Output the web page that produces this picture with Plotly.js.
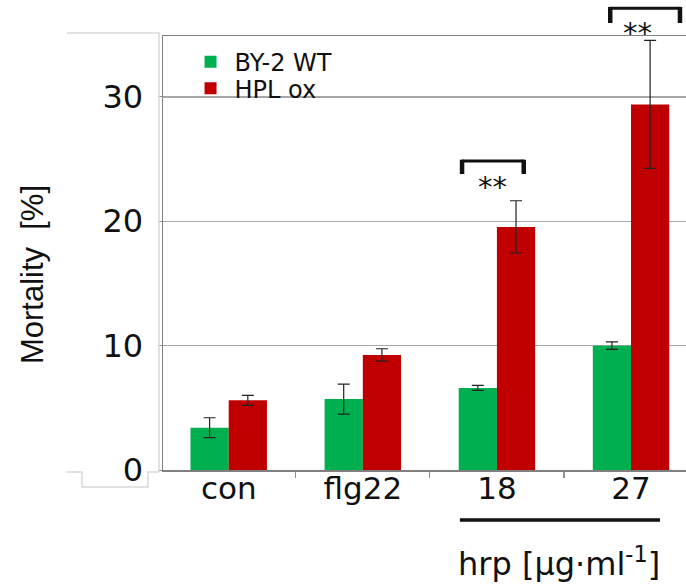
<!DOCTYPE html>
<html>
<head>
<meta charset="utf-8">
<script src="https://cdn.plot.ly/plotly-3.0.1.min.js"></script>
<style>html,body{margin:0;padding:0;background:#fff;}#chart{width:686px;height:585px;}</style>
</head>
<body>
<div id="chart"></div>
<script>
const categories = ['con', 'flg22', '18', '27'];
const wtValues = [3.4, 5.7, 6.6, 10.0];
const wtErrors = [0.8, 1.2, 0.2, 0.3];
const hplValues = [5.6, 9.25, 19.55, 29.4];
const hplErrors = [0.4, 0.5, 2.1, 5.15];
const seriesNames = ['BY-2 WT', 'HPL ox'];
const yTicks = [0, 10, 20, 30];

const FONT = 'DejaVu Sans, Arial, sans-serif';
const errStyle = {type: 'data', visible: true, color: '#222', thickness: 1.2, width: 6};

const traces = [
  {type: 'bar', name: seriesNames[0], x: categories, y: wtValues, legend: 'legend',
   marker: {color: '#00B050'}, error_y: Object.assign({array: wtErrors}, errStyle)},
  {type: 'bar', name: seriesNames[1], x: categories, y: hplValues, legend: 'legend2',
   marker: {color: '#C00000'}, error_y: Object.assign({array: hplErrors}, errStyle)}
];

const legendBase = {xanchor: 'left', yanchor: 'middle', bgcolor: 'rgba(0,0,0,0)', itemwidth: 38,
                    font: {family: FONT, size: 24, color: '#111'}, itemclick: false};
const faint = {color: '#d9d9d9', width: 1.5};
const blk = '#111';
const layout = {
  width: 686, height: 585,
  margin: {l: 163, r: 0, t: 36, b: 115},
  paper_bgcolor: '#fff', plot_bgcolor: '#fff',
  barmode: 'group', bargap: 0.43, bargroupgap: 0,
  showlegend: true,
  legend: Object.assign({x: 0.045, y: 0.9395}, legendBase),
  legend2: Object.assign({x: 0.045, y: 0.8789}, legendBase),
  xaxis: {type: 'category', range: [-0.49, 3.41], showline: true, linecolor: '#808080', linewidth: 1.5,
          mirror: true, ticks: 'outside', tickson: 'boundaries', ticklen: 6, tickcolor: '#909090',
          tickwidth: 1.2, showgrid: false, zeroline: false, ticklabelstandoff: -10,
          tickfont: {family: FONT, size: 31, color: '#111'}},
  yaxis: {range: [0, 34.9], tickvals: yTicks, ticktext: yTicks.map(String), showline: true,
          linecolor: '#808080', linewidth: 1.5, ticks: 'outside', ticklen: 4, tickcolor: '#909090',
          showgrid: true, gridcolor: '#a6a6a6', gridwidth: 1.3, zeroline: false,
          ticklabelstandoff: 8,
          tickfont: {family: FONT, size: 32, color: '#111'},
          title: {text: 'Mortality\u00a0\u00a0[%]\u00a0\u00a0\u00a0\u00a0\u00a0\u200b', standoff: 49,
                  font: {family: 'Liberation Sans, Arial, sans-serif', size: 31, color: '#111'}}},
  shapes: [
    // faint frame artefacts at the left
    {type: 'path', xref: 'paper', yref: 'paper', line: faint,
     path: 'M-0.1836,1.0069 L-0.0076,1.0069 L-0.0076,-0.0046'},
    {type: 'path', xref: 'paper', yref: 'paper', line: faint,
     path: 'M-0.1836,-0.0046 L-0.1549,-0.0046 L-0.1549,-0.0392 L-0.0287,-0.0392 L-0.0287,-0.0046 L-0.0076,-0.0046'},
    // hrp underline
    {type: 'line', xref: 'x', yref: 'paper', x0: 1.724, x1: 3.216, y0: -0.115, y1: -0.115,
     line: {color: blk, width: 3.5}},
    // bracket over 18
    {type: 'line', xref: 'x', yref: 'paper', x0: 1.74, x1: 2.20, y0: 0.712, y1: 0.712, line: {color: blk, width: 3}},
    {type: 'line', xref: 'x', yref: 'paper', x0: 1.74, x1: 1.74, y0: 0.715, y1: 0.682, line: {color: blk, width: 4.5}},
    {type: 'line', xref: 'x', yref: 'paper', x0: 2.20, x1: 2.20, y0: 0.715, y1: 0.682, line: {color: blk, width: 4.5}},
    // bracket over 27
    {type: 'line', xref: 'x', yref: 'paper', x0: 2.845, x1: 3.365, y0: 1.064, y1: 1.064, line: {color: blk, width: 3}},
    {type: 'line', xref: 'x', yref: 'paper', x0: 2.845, x1: 2.845, y0: 1.067, y1: 1.030, line: {color: blk, width: 4.5}},
    {type: 'line', xref: 'x', yref: 'paper', x0: 3.365, x1: 3.365, y0: 1.067, y1: 1.030, line: {color: blk, width: 4.5}}
  ],
  annotations: [
    {xref: 'x', yref: 'paper', x: 1.97, y: 0.652, text: '**', showarrow: false,
     xanchor: 'center', yanchor: 'middle', font: {family: FONT, size: 29, color: blk}},
    {xref: 'x', yref: 'paper', x: 3.05, y: 1.006, text: '**', showarrow: false,
     xanchor: 'center', yanchor: 'middle', font: {family: FONT, size: 29, color: blk}},
    {xref: 'x', yref: 'paper', x: 2.465, y: -0.212, text: 'hrp [µg·ml<sup>-1</sup>]', showarrow: false,
     xanchor: 'center', yanchor: 'middle', font: {family: FONT, size: 32, color: blk}}
  ]
};

Plotly.newPlot('chart', traces, layout, {displayModeBar: false, staticPlot: true});
</script>
</body>
</html>
